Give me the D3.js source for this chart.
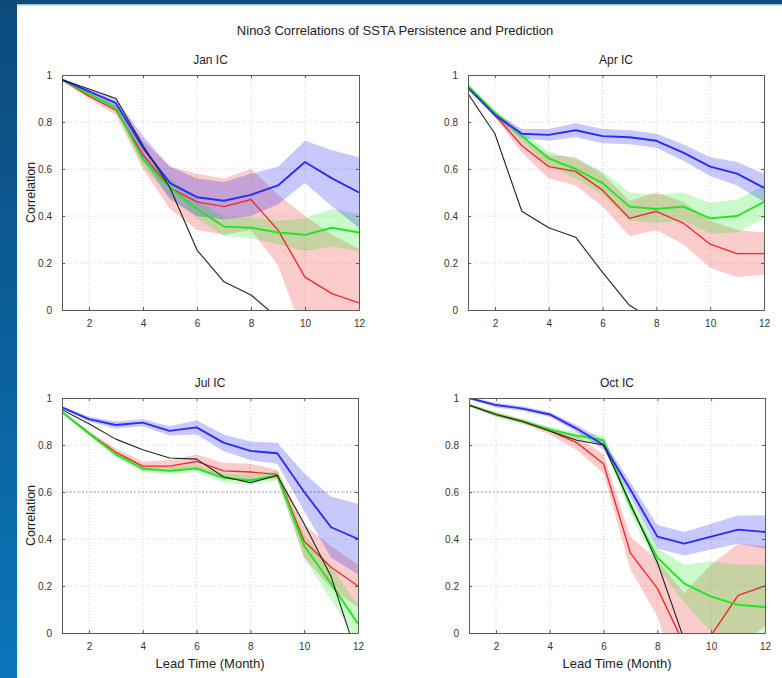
<!DOCTYPE html>
<html>
<head>
<meta charset="utf-8">
<script src="https://cdn.jsdelivr.net/npm/d3@7"></script>
<style>
  html, body { margin: 0; padding: 0; background: #fff; }
  svg { display: block; font-family: "Liberation Sans", Arial, Helvetica, sans-serif; }
</style>
</head>
<body>
<svg id="chart" width="782" height="678"></svg>
<script>
// ---- data -------------------------------------------------------------
const months = [1, 2, 3, 4, 5, 6, 7, 8, 9, 10, 11, 12];
const xTicks = [2, 4, 6, 8, 10, 12];
const yTicks = [0, 0.2, 0.4, 0.6, 0.8, 1];
const yTickLabels = ["0", "0.2", "0.4", "0.6", "0.8", "1"];
const mainTitle = "Nino3 Correlations of SSTA Persistence and Prediction";
const panelTitles = ["Jan IC", "Apr IC", "Jul IC", "Oct IC"];
const yAxisLabel = "Correlation";
const xAxisLabel = "Lead Time (Month)";

// Jan initial conditions
const janPersist = [0.98, 0.94, 0.90, 0.70, 0.52, 0.255, 0.12, 0.064, -0.034, -0.15, -0.25, -0.30];
const janBlue    = [0.98, 0.93, 0.88, 0.69, 0.54, 0.48, 0.465, 0.49, 0.53, 0.63, 0.56, 0.50];
const janBlueSd  = [0.005, 0.01, 0.02, 0.05, 0.07, 0.08, 0.08, 0.09, 0.08, 0.09, 0.12, 0.15];
const janRed     = [0.98, 0.91, 0.85, 0.66, 0.52, 0.46, 0.44, 0.47, 0.34, 0.14, 0.07, 0.03];
const janRedSd   = [0.005, 0.01, 0.02, 0.06, 0.09, 0.12, 0.12, 0.13, 0.15, 0.26, 0.25, 0.23];
const janGreen   = [0.98, 0.92, 0.86, 0.64, 0.52, 0.43, 0.355, 0.35, 0.33, 0.32, 0.35, 0.33];
const janGreenSd = [0.005, 0.01, 0.015, 0.03, 0.04, 0.04, 0.04, 0.045, 0.05, 0.07, 0.08, 0.08];

// Apr initial conditions
const aprPersist = [0.92, 0.75, 0.42, 0.35, 0.31, 0.16, 0.02, -0.05, -0.15, -0.20, -0.25, -0.30];
const aprBlue    = [0.945, 0.83, 0.75, 0.745, 0.765, 0.74, 0.735, 0.72, 0.67, 0.61, 0.58, 0.52];
const aprBlueSd  = [0.005, 0.01, 0.02, 0.025, 0.03, 0.03, 0.03, 0.03, 0.035, 0.04, 0.05, 0.06];
const aprRed     = [0.955, 0.83, 0.70, 0.61, 0.59, 0.51, 0.39, 0.42, 0.37, 0.28, 0.24, 0.24];
const aprRedSd   = [0.005, 0.01, 0.03, 0.05, 0.06, 0.07, 0.075, 0.08, 0.09, 0.10, 0.10, 0.09];
const aprGreen   = [0.955, 0.84, 0.74, 0.645, 0.60, 0.54, 0.44, 0.43, 0.44, 0.39, 0.40, 0.46];
const aprGreenSd = [0.005, 0.01, 0.02, 0.03, 0.04, 0.05, 0.06, 0.06, 0.06, 0.065, 0.07, 0.07];

// Jul initial conditions
const julPersist = [0.95, 0.89, 0.825, 0.78, 0.745, 0.74, 0.665, 0.64, 0.67, 0.465, 0.24, -0.11];
const julBlue    = [0.96, 0.91, 0.885, 0.895, 0.86, 0.875, 0.81, 0.775, 0.765, 0.60, 0.45, 0.40];
const julBlueSd  = [0.005, 0.01, 0.015, 0.015, 0.02, 0.03, 0.035, 0.04, 0.045, 0.08, 0.13, 0.15];
const julRed     = [0.94, 0.85, 0.77, 0.71, 0.71, 0.73, 0.69, 0.685, 0.675, 0.39, 0.28, 0.20];
const julRedSd   = [0.005, 0.01, 0.015, 0.02, 0.025, 0.03, 0.035, 0.035, 0.02, 0.07, 0.09, 0.09];
const julGreen   = [0.94, 0.85, 0.76, 0.70, 0.69, 0.70, 0.66, 0.65, 0.67, 0.37, 0.21, 0.04];
const julGreenSd = [0.005, 0.01, 0.01, 0.015, 0.015, 0.015, 0.02, 0.02, 0.02, 0.05, 0.07, 0.08];

// Oct initial conditions
const octPersist = [0.97, 0.93, 0.90, 0.86, 0.82, 0.80, 0.55, 0.30, -0.03, -0.20, -0.30, -0.35];
const octBlue    = [1.0, 0.97, 0.955, 0.93, 0.87, 0.80, 0.61, 0.41, 0.38, 0.41, 0.44, 0.43];
const octBlueSd  = [0.005, 0.01, 0.01, 0.01, 0.015, 0.02, 0.03, 0.05, 0.05, 0.055, 0.06, 0.07];
const octRed     = [0.97, 0.93, 0.90, 0.86, 0.81, 0.72, 0.34, 0.19, -0.05, -0.01, 0.16, 0.20];
const octRedSd   = [0.005, 0.01, 0.01, 0.015, 0.03, 0.04, 0.07, 0.12, 0.22, 0.30, 0.22, 0.17];
const octGreen   = [0.97, 0.93, 0.90, 0.865, 0.84, 0.82, 0.54, 0.32, 0.21, 0.155, 0.12, 0.11];
const octGreenSd = [0.005, 0.01, 0.01, 0.01, 0.015, 0.02, 0.03, 0.04, 0.08, 0.15, 0.17, 0.18];

// dotted reference level drawn in some panels
const refLevels = [null, null, 0.6, 0.6];

// ---- styles -----------------------------------------------------------
const colors = { blue: "#2b2bf2", red: "#ee2b2b", green: "#22e522", black: "#222" };
const bandOpacity = { blue: 0.26, red: 0.24, green: 0.24 };
const lineWidth = { blue: 1.9, red: 1.4, green: 1.9, black: 1.1 };

const panels = [
  { title: panelTitles[0], persist: janPersist, series: [
      { key: "red", mean: janRed, sd: janRedSd },
      { key: "green", mean: janGreen, sd: janGreenSd },
      { key: "blue", mean: janBlue, sd: janBlueSd }] },
  { title: panelTitles[1], persist: aprPersist, series: [
      { key: "red", mean: aprRed, sd: aprRedSd },
      { key: "green", mean: aprGreen, sd: aprGreenSd },
      { key: "blue", mean: aprBlue, sd: aprBlueSd }] },
  { title: panelTitles[2], persist: julPersist, series: [
      { key: "red", mean: julRed, sd: julRedSd },
      { key: "green", mean: julGreen, sd: julGreenSd },
      { key: "blue", mean: julBlue, sd: julBlueSd }] },
  { title: panelTitles[3], persist: octPersist, series: [
      { key: "red", mean: octRed, sd: octRedSd },
      { key: "green", mean: octGreen, sd: octGreenSd },
      { key: "blue", mean: octBlue, sd: octBlueSd }] }
];

const boxes = [
  { left: 62,  top: 75,  width: 297, height: 235, yLabel: true,  xLabel: false },
  { left: 468, top: 75,  width: 296, height: 235, yLabel: false, xLabel: false },
  { left: 62,  top: 398, width: 296, height: 235, yLabel: true,  xLabel: true },
  { left: 469, top: 398, width: 296, height: 235, yLabel: false, xLabel: true }
];

// ---- page frame -------------------------------------------------------
const svg = d3.select("#chart");
const defs = svg.append("defs");
const grad = defs.append("linearGradient").attr("id", "sideGrad")
  .attr("x1", 0).attr("y1", 0).attr("x2", 0).attr("y2", 1);
grad.append("stop").attr("offset", "0%").attr("stop-color", "#0c4a7b");
grad.append("stop").attr("offset", "100%").attr("stop-color", "#0a75b9");

svg.append("rect").attr("width", 782).attr("height", 678).attr("fill", "#fff");
svg.append("rect").attr("x", 0).attr("y", 0).attr("width", 17).attr("height", 678).attr("fill", "url(#sideGrad)");
svg.append("rect").attr("x", 0).attr("y", 0).attr("width", 782).attr("height", 4).attr("fill", "#0c4b7b");
svg.append("rect").attr("x", 17).attr("y", 4).attr("width", 765).attr("height", 1.5).attr("fill", "#9fc0dc");

svg.append("text")
  .attr("x", 395).attr("y", 35)
  .attr("text-anchor", "middle")
  .attr("font-size", 13).attr("fill", "#222")
  .text(mainTitle);

// ---- panels -----------------------------------------------------------
panels.forEach((p, i) => {
  const b = boxes[i];
  const g = svg.append("g").attr("transform", `translate(${b.left},${b.top})`);
  const x = d3.scaleLinear().domain([1, 12]).range([0, b.width]);
  const y = d3.scaleLinear().domain([0, 1]).range([b.height, 0]);

  const clipId = "clip" + i;
  defs.append("clipPath").attr("id", clipId)
    .append("rect").attr("width", b.width).attr("height", b.height);

  // grid
  const grid = g.append("g");
  grid.selectAll("line.gx").data(xTicks.filter(t => t < 12)).join("line")
    .attr("x1", d => x(d)).attr("x2", d => x(d))
    .attr("y1", 0).attr("y2", b.height)
    .attr("stroke", "#d6d6d6").attr("stroke-width", 1).attr("stroke-dasharray", "1,2");
  grid.selectAll("line.gy").data(yTicks.filter(t => t > 0 && t < 1)).join("line")
    .attr("x1", 0).attr("x2", b.width)
    .attr("y1", d => y(d)).attr("y2", d => y(d))
    .attr("stroke", "#d6d6d6").attr("stroke-width", 1).attr("stroke-dasharray", "1,2");
  if (refLevels[i] !== null) {
    g.append("line")
      .attr("x1", 0).attr("x2", b.width)
      .attr("y1", y(refLevels[i])).attr("y2", y(refLevels[i]))
      .attr("stroke", "#8a8a8a").attr("stroke-width", 1).attr("stroke-dasharray", "1.5,2.5");
  }

  const plot = g.append("g").attr("clip-path", `url(#${clipId})`);

  // spread bands
  const area = d3.area()
    .x((d, k) => x(months[k]))
    .y0(d => y(d.lo)).y1(d => y(d.hi));
  p.series.forEach(s => {
    const pts = s.mean.map((m, k) => ({ lo: m - s.sd[k], hi: m + s.sd[k] }));
    plot.append("path").datum(pts)
      .attr("d", area)
      .attr("fill", colors[s.key])
      .attr("fill-opacity", bandOpacity[s.key]);
  });

  // mean lines
  const line = d3.line().x((d, k) => x(months[k])).y(d => y(d));
  p.series.forEach(s => {
    plot.append("path").datum(s.mean)
      .attr("d", line)
      .attr("fill", "none")
      .attr("stroke", colors[s.key])
      .attr("stroke-width", lineWidth[s.key])
      .attr("stroke-linejoin", "round");
  });
  // persistence
  plot.append("path").datum(p.persist)
    .attr("d", line)
    .attr("fill", "none")
    .attr("stroke", colors.black)
    .attr("stroke-width", lineWidth.black)
    .attr("stroke-linejoin", "round");

  // axes (inward ticks on all four sides)
  const styleAxis = sel => {
    sel.selectAll(".domain").attr("stroke", "#5a5a5a").attr("stroke-width", 1);
    sel.selectAll(".tick line").attr("stroke", "#5a5a5a");
    sel.selectAll("text").attr("fill", "#333").attr("font-size", 10)
      .attr("font-family", "\"Liberation Sans\", Arial, sans-serif");
  };
  g.append("g").attr("transform", `translate(0,${b.height})`)
    .call(d3.axisBottom(x).tickValues(xTicks).tickFormat(d3.format("d"))
      .tickSizeInner(-3).tickSizeOuter(0).tickPadding(10))
    .call(styleAxis);
  g.append("g")
    .call(d3.axisLeft(y).tickValues(yTicks).tickFormat((d, k) => yTickLabels[k])
      .tickSizeInner(-3).tickSizeOuter(0).tickPadding(10))
    .call(styleAxis);
  g.append("g")
    .call(d3.axisTop(x).tickValues(xTicks).tickFormat("")
      .tickSizeInner(-3).tickSizeOuter(0))
    .call(styleAxis);
  g.append("g").attr("transform", `translate(${b.width},0)`)
    .call(d3.axisRight(y).tickValues(yTicks).tickFormat("")
      .tickSizeInner(-3).tickSizeOuter(0))
    .call(styleAxis);

  // titles and labels
  g.append("text")
    .attr("x", b.width / 2).attr("y", -11)
    .attr("text-anchor", "middle")
    .attr("font-size", 12).attr("fill", "#222")
    .text(p.title);
  if (b.yLabel) {
    g.append("text")
      .attr("transform", `translate(-27,${b.height / 2}) rotate(-90)`)
      .attr("text-anchor", "middle")
      .attr("font-size", 12.5).attr("fill", "#222")
      .text(yAxisLabel);
  }
  if (b.xLabel) {
    g.append("text")
      .attr("x", b.width / 2).attr("y", b.height + 35)
      .attr("text-anchor", "middle")
      .attr("font-size", 13).attr("fill", "#222")
      .text(xAxisLabel);
  }
});
</script>
</body>
</html>
